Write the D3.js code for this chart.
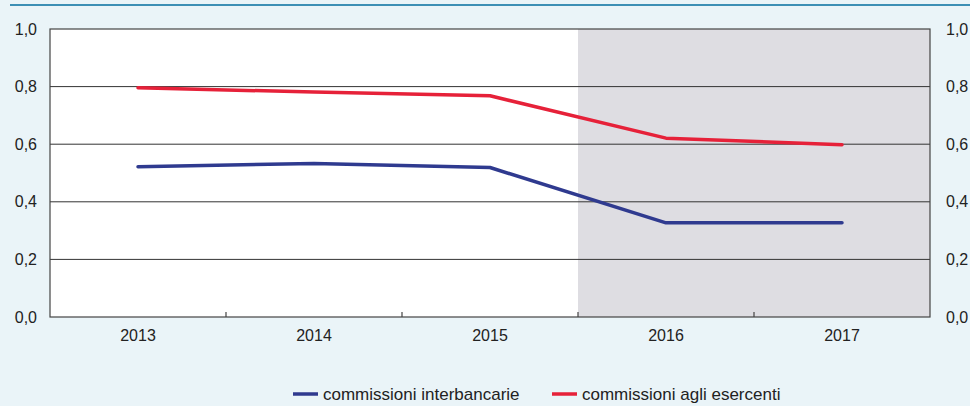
<!DOCTYPE html>
<html><head><meta charset="utf-8">
<script src="https://cdn.jsdelivr.net/npm/d3@7"></script>
<style>body{margin:0;background:#eaf4f8;}svg{display:block;font-family:"Liberation Sans",Arial,sans-serif;}</style>
</head><body><svg id="c" width="970" height="406"></svg>
<script>
const years = ["2013","2014","2015","2016","2017"];
const interbancarie = [0.522, 0.533, 0.519, 0.327, 0.327];
const esercenti = [0.796, 0.781, 0.768, 0.621, 0.598];
const yTicks = [0, 0.2, 0.4, 0.6, 0.8, 1.0];
const shadedFrom = "2016";
const seriesNames = ["commissioni interbancarie", "commissioni agli esercenti"];
const colors = ["#2f3a8f", "#e62139"];

const svg = d3.select("#c");
const L = 50, R = 930, T = 29, B = 317;
const x = d3.scaleBand().domain(years).range([L, R]);
const y = d3.scaleLinear().domain([0, 1]).range([B, T]);

svg.append("rect").attr("width",970).attr("height",406).attr("fill","#eaf4f8");
svg.append("line").attr("x1",10).attr("x2",970).attr("y1",5).attr("y2",5).attr("stroke","#3d8fb5").attr("stroke-width",2);

svg.append("rect").attr("x",L).attr("y",T).attr("width",R-L).attr("height",B-T).attr("fill","#ffffff");
svg.append("rect").attr("x",x(shadedFrom)).attr("y",T).attr("width",R-x(shadedFrom)).attr("height",B-T).attr("fill","#dedde2");

svg.append("g").selectAll("line").data(yTicks.slice(1,-1)).join("line")
  .attr("x1",L).attr("x2",R).attr("y1",d=>y(d)).attr("y2",d=>y(d))
  .attr("stroke","#333").attr("stroke-width",1);

svg.append("rect").attr("x",L).attr("y",T).attr("width",R-L).attr("height",B-T)
  .attr("fill","none").attr("stroke","#444").attr("stroke-width",1.2);

const FF = "Liberation Sans, Arial, sans-serif";
const fmt = d => d3.format(".1f")(d).replace(".", ",");
const yl = d3.axisLeft(y).tickValues(yTicks).tickFormat(fmt).tickSize(0).tickPadding(13);
const gl = svg.append("g").attr("transform",`translate(${L},0)`).call(yl);
const yr = d3.axisRight(y).tickValues(yTicks).tickFormat(fmt).tickSize(0).tickPadding(16);
const gr = svg.append("g").attr("transform",`translate(${R},0)`).call(yr);
[gl,gr].forEach(g=>{g.select(".domain").remove();g.selectAll("text").attr("font-size",16).attr("fill","#222").attr("font-family",FF);});

const xa = d3.axisBottom(x).tickSize(0).tickPadding(13);
const gx = svg.append("g").attr("transform",`translate(0,${B})`).call(xa);
gx.select(".domain").remove();
gx.selectAll("text").attr("font-size",16).attr("fill","#222").attr("font-family",FF);
svg.append("g").selectAll("line").data(years.slice(1)).join("line")
  .attr("x1",d=>x(d)).attr("x2",d=>x(d)).attr("y1",B).attr("y2",B-5)
  .attr("stroke","#444").attr("stroke-width",1.2);

const line = d3.line().x((d,i)=>x(years[i])+x.bandwidth()/2).y(d=>y(d));
[interbancarie, esercenti].forEach((s,k)=>{
  svg.append("path").datum(s).attr("d",line).attr("fill","none")
    .attr("stroke",colors[k]).attr("stroke-width",3.5).attr("stroke-linejoin","round").attr("stroke-linecap","round");
});

const lg = [{x:293, name:seriesNames[0], c:colors[0]},{x:552, name:seriesNames[1], c:colors[1]}];
lg.forEach(d=>{
  svg.append("line").attr("x1",d.x).attr("x2",d.x+25).attr("y1",394).attr("y2",394).attr("stroke",d.c).attr("stroke-width",3.5);
  svg.append("text").attr("x",d.x+30).attr("y",400).attr("font-size",17).attr("fill","#222").attr("font-family",FF).text(d.name);
});
</script></body></html>
